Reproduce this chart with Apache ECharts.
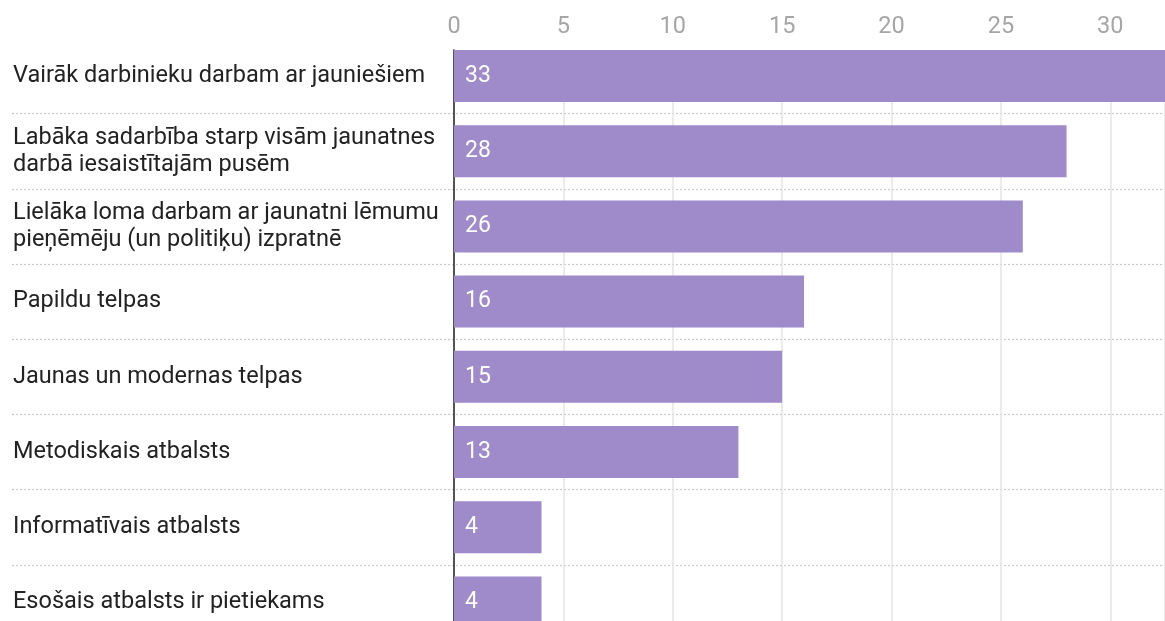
<!DOCTYPE html>
<html>
<head>
<meta charset="utf-8">
<script src="https://cdn.jsdelivr.net/npm/echarts@6/dist/echarts.min.js"></script>
<style>
  html, body { margin: 0; padding: 0; background: #fff; }
  #main { width: 1165px; height: 621px; }
</style>
</head>
<body>
<div id="main"></div>
<script>
const categories = [
  'Vairāk darbinieku darbam ar jauniešiem',
  'Labāka sadarbība starp visām jaunatnes\ndarbā iesaistītajām pusēm',
  'Lielāka loma darbam ar jaunatni lēmumu\npieņēmēju (un politiķu) izpratnē',
  'Papildu telpas',
  'Jaunas un modernas telpas',
  'Metodiskais atbalsts',
  'Informatīvais atbalsts',
  'Esošais atbalsts ir pietiekams'
];
const values = [33, 28, 26, 16, 15, 13, 4, 4];
const tickStep = 5;
const axisMax = 32.5;

const chart = echarts.init(document.getElementById('main'));
const font = 'Roboto, "Noto Sans", sans-serif';

const option = {
  animation: false,
  grid: [
    // dotted row separators, full width
    { left: 12, right: 0, top: 38.4, height: 601.6, outerBoundsMode: 'none' },
    // bars
    { left: 454, right: 0, top: 38.4, height: 601.6, outerBoundsMode: 'none' },
    // vertical grid lines + axis line, start at top of first bar
    { left: 454, right: 0, top: 50, bottom: 0, outerBoundsMode: 'none' }
  ],
  xAxis: [
    { gridIndex: 0, type: 'value', min: 0, max: 1, show: false },
    { gridIndex: 1, type: 'value', min: 0, max: axisMax, show: false },
    {
      gridIndex: 2, type: 'value', min: 0, max: axisMax, interval: tickStep,
      position: 'top',
      axisLine: { show: false },
      axisTick: { show: false },
      axisLabel: {
        margin: 11, fontSize: 23.5, color: '#a6a6a6', fontFamily: font,
        formatter: v => (v % tickStep === 0 ? String(v) : '')
      },
      splitLine: { show: true, lineStyle: { color: '#e4e4e4', width: 1.5 } }
    }
  ],
  yAxis: [
    {
      gridIndex: 0, type: 'category', inverse: true, data: categories,
      axisLine: { show: false }, axisTick: { show: false }, axisLabel: { show: false },
      splitLine: {
        show: true, showMinLine: false,
        lineStyle: { color: '#c8c8c8', type: [2, 2], width: 1.2 }
      }
    },
    {
      gridIndex: 1, type: 'category', inverse: true, data: categories,
      axisLine: { show: false }, axisTick: { show: false },
      axisLabel: {
        align: 'left', margin: 441, fontSize: 23.5, lineHeight: 27,
        color: '#222', fontFamily: font
      }
    },
    {
      gridIndex: 2, type: 'value', min: 0, max: 1,
      axisLine: { show: true, lineStyle: { color: '#222', width: 1.5 } },
      axisTick: { show: false }, axisLabel: { show: false }, splitLine: { show: false }
    }
  ],
  series: [
    {
      type: 'bar',
      xAxisIndex: 1,
      yAxisIndex: 1,
      data: values,
      barWidth: 52,
      itemStyle: { color: '#9f8aca' },
      label: {
        show: true, position: 'insideLeft', distance: 11,
        color: '#fff', fontSize: 23, fontFamily: font
      },
      z: 3
    }
  ]
};

chart.setOption(option);
</script>
</body>
</html>
